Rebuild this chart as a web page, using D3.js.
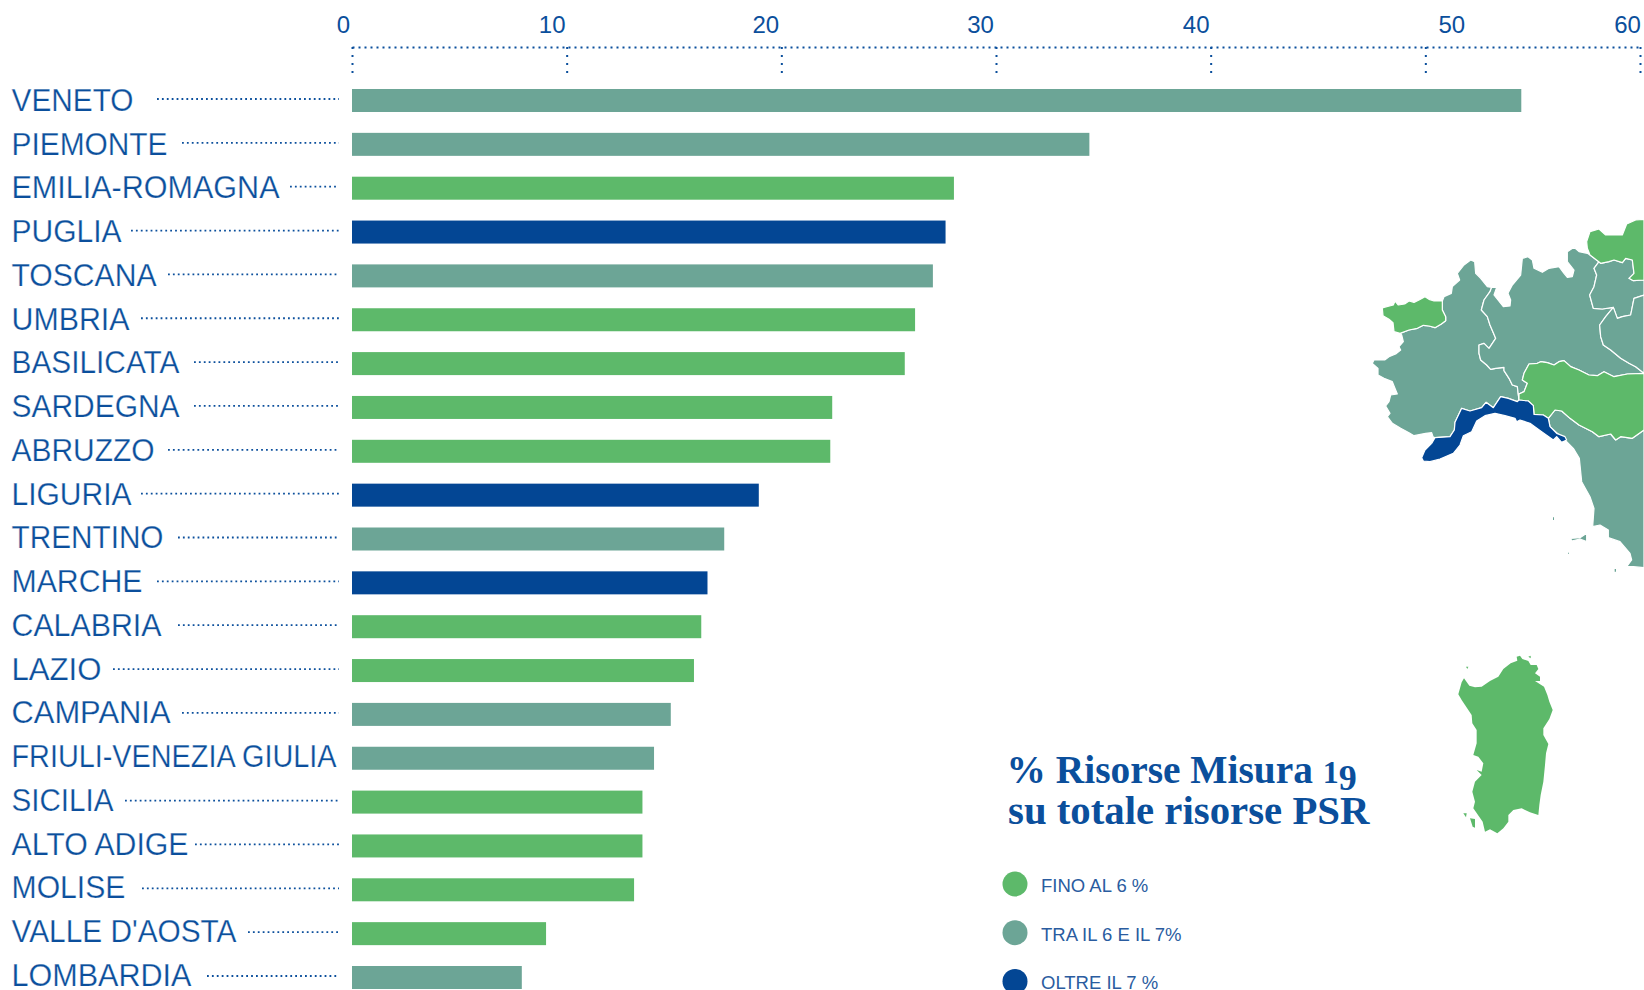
<!DOCTYPE html>
<html>
<head>
<meta charset="utf-8">
<script src="https://cdn.jsdelivr.net/npm/d3@7/dist/d3.min.js"></script>
<style>
html, body { margin:0; padding:0; background:#fff; overflow:hidden; }
svg { display:block; }
</style>
</head>
<body>
<div id="content"></div>
<script>
//////////////////// data
const regions = ["VENETO","PIEMONTE","EMILIA-ROMAGNA","PUGLIA","TOSCANA","UMBRIA","BASILICATA","SARDEGNA","ABRUZZO","LIGURIA","TRENTINO","MARCHE","CALABRIA","LAZIO","CAMPANIA","FRIULI-VENEZIA GIULIA","SICILIA","ALTO ADIGE","MOLISE","VALLE D'AOSTA","LOMBARDIA"];
const values = [54.47,34.35,28.04,27.65,27.06,26.23,25.75,22.37,22.28,18.95,17.34,16.56,16.27,15.93,14.85,14.07,13.53,13.53,13.14,9.04,7.91];
const classes = ["mid","mid","low","high","mid","low","low","low","low","high","mid","high","low","low","mid","mid","low","low","low","low","mid"];
const axisTicks = [0,10,20,30,40,50,60];
const legendKeys = ["low","mid","high"];
const legendLabels = ["FINO AL 6 %","TRA IL 6 E IL 7%","OLTRE IL 7 %"];
const titleLines = ["% Risorse Misura ","su totale risorse PSR"];
const titleNumber = ["1","9"];

// map borders, traced in 3x crop pixels of the map area. shared stretches are kept once
const ligTop = [[285,713],[330,710],[343,690],[345,667],[365,625],[390,633],[425,623],[438,607],[460,623],[482,590],[505,595],[532,605]];
const pieLomb = [[537,600],[532,560],[517,555],[507,535],[492,512],[492,502],[467,505],[452,508],[440,495],[422,480],[417,460],[417,435],[432,430],[447,445],[467,415],[450,375],[442,350],[424,330],[432,300],[450,275],[455,262]];
const aostaSouth = [[307,303],[307,330],[317,350],[317,362],[304,372],[285,383],[267,378],[250,376],[232,385],[207,390],[180,400]];
const pieNorth = [[442,260],[422,235],[407,220],[404,185],[392,180],[372,195],[352,220],[359,240],[337,260],[334,280],[312,290]];
const pieWest = [[185,405],[190,425],[177,440],[182,450],[167,462],[147,470],[134,480],[102,480],[97,490],[114,505],[114,525],[132,535],[157,545],[167,570],[172,582],[152,585],[147,605],[137,618],[150,640],[142,650],[157,670],[182,685],[207,698],[222,707],[257,700],[275,698],[279,710]];
const lombNorth = [[470,262],[462,285],[490,320],[510,318],[512,300],[504,280],[517,255],[542,225],[547,175],[564,170],[577,180],[582,205],[607,217],[627,205],[657,200],[672,220],[682,232],[697,230],[702,210],[682,185],[682,155],[702,142],[717,155],[742,160],[750,165]];
const lombEast = [[777,185],[762,205],[770,225],[762,260],[749,285],[760,325],[787,327],[820,322]];
const venLomb = [[797,350],[779,375],[782,410],[790,435],[812,450],[842,475],[867,490],[887,500],[912,520]];
const emiNorth = [[862,522],[822,530],[792,515],[772,527],[747,525],[717,510],[692,500],[672,482],[657,485],[642,495],[622,488],[602,485],[592,490],[567,492],[552,520],[547,540],[562,550],[552,575],[537,582]];
const ligEmi = [[537,600],[565,603],[580,617],[582,643],[610,645],[625,655]];
const emiSouth = [[645,630],[665,633],[690,655],[717,675],[757,695],[777,710],[812,702],[827,720],[842,710],[877,715],[912,690]];
const ligCoast = [[630,680],[650,700],[675,710],[680,720],[665,727],[650,710],[640,720],[605,695],[570,670],[540,660],[530,665],[525,655],[495,647],[465,640],[435,647],[410,663],[395,695],[370,707],[360,735],[340,760],[300,777],[270,785],[250,783],[245,773],[255,750],[275,730]];
const tosCoast = [[912,1103],[880,1100],[860,1100],[875,1080],[870,1060],[840,1025],[805,1013],[805,990],[780,975],[758,980],[762,925],[750,890],[725,845],[718,775],[700,745],[680,725]];
const aostaNorth = [[305,303],[282,303],[267,298],[255,290],[237,300],[222,307],[207,303],[194,312],[175,315],[165,303],[160,315],[132,322],[127,325],[129,347],[147,358],[159,368],[162,395]];
const adigeNorth = [[742,145],[740,125],[750,95],[777,87],[797,105],[847,105],[860,72],[887,60],[912,58],[912,240],[880,242],[867,235],[882,220],[877,180],[857,175],[847,188],[822,180],[807,185],[782,190],[750,165]];
const trenEast = [[782,190],[807,185],[822,180],[847,188],[857,175],[877,180],[882,220],[867,235],[880,242],[912,240],[912,285],[882,295],[872,345],[847,350],[832,355],[820,322]];
const elba = [[692,1015],[720,1013],[740,1000],[740,1025],[720,1017],[695,1023]];
const tinyIsles = [[[639,952],[642,952],[642,960],[639,960]],[[824,1107],[828,1107],[828,1115],[824,1115]],[[684,1058],[687,1058],[687,1061],[684,1061]]];

// sardinia, traced in its own 3x crop
const sardegna = [[65,112],[72,100],[88,122],[105,127],[125,125],[150,108],[175,95],[190,72],[212,55],[232,47],[230,35],[240,32],[247,42],[265,48],[272,60],[290,60],[295,72],[285,85],[300,95],[300,108],[285,108],[312,125],[322,150],[328,170],[338,195],[328,222],[310,250],[310,270],[325,297],[318,325],[315,360],[310,410],[302,450],[298,480],[295,510],[270,502],[245,490],[220,495],[205,510],[205,530],[190,550],[172,565],[150,553],[135,560],[128,530],[100,490],[105,470],[97,440],[105,410],[125,390],[110,375],[125,380],[130,355],[115,335],[100,330],[110,295],[110,255],[97,235],[95,210],[75,180],[65,165],[55,148]];
const sardegnaIslets = [[[70,505],[80,505],[78,517]],[[90,520],[105,522],[105,548],[98,545]],[[78,65],[85,65],[82,72]],[[265,35],[272,32],[272,40]]];

const rev = a => a.slice().reverse();
const piemonte = [[180,400],[185,405]].concat(pieWest.slice(1), ligTop, pieLomb, pieNorth, aostaSouth);
const valleAosta = rev(aostaSouth).concat(aostaNorth.slice(1));
const lombardia = [[455,262]].concat(lombNorth, lombEast, venLomb, emiNorth, pieLomb);
const trentino = [[777,185]].concat(trenEast, rev(lombEast).slice(1));
const altoAdige = adigeNorth;
const veneto = [[820,322],[832,355],[847,350],[872,345],[882,295],[912,285],[912,520]].concat(rev(venLomb).slice(1));
const emilia = [[912,520]].concat(emiNorth, ligEmi, emiSouth);
const liguria = ligTop.concat(ligEmi, ligCoast);
const toscana = [[625,655]].concat(emiSouth, tosCoast, [[630,680]]);

//////////////////// layout
const W = 1644, H = 990;
const xStart = 352, xEnd = 1640;
const barTop = 89, rowStep = 43.85, barH = 23;
const labelX = 11.5, leaderEnd = 339;
const labelBase = 111, labelStep = 43.74;
const labelWidth = [122,156,268,110,145,118,168,168,143,120,152,131,150,90,159,325,102,177,114,225,180];
const leaderStart = [157,182,290,131,168,141,194,194,168,141,178,157,178,113,182,0,125,195,142,248,207];
const tickDx = [-9,-15,-16,-16,-15,26,-13];
const titleSize = [39.4,40.8];
const ink = "#0b4f9c";
const serifFont = "'Liberation Serif', serif";
const sansFont = "'Liberation Sans', sans-serif";

const xScale = d3.scaleLinear().domain([0,60]).range([xStart,xEnd]);
const yScale = d3.scaleBand()
    .domain(regions)
    .range([barTop, barTop + rowStep*regions.length - (rowStep-barH)])
    .paddingInner(1 - barH/rowStep)
    .paddingOuter(0);
const cScale = d3.scaleOrdinal().domain(legendKeys).range(["#5db96a","#6ca596","#034694"]);

const mapX = d3.scaleLinear().domain([0,912]).range([1340,1644]);
const mapY = d3.scaleLinear().domain([0,1170]).range([200,590]);
const sardX = d3.scaleLinear().domain([0,390]).range([1440,1570]);
const sardY = d3.scaleLinear().domain([0,600]).range([645,845]);
const mapLine = d3.line().x(d=>mapX(d[0])).y(d=>mapY(d[1])).curve(d3.curveLinearClosed);
const sardLine = d3.line().x(d=>sardX(d[0])).y(d=>sardY(d[1])).curve(d3.curveLinearClosed);

////////////////////  composing SVG-content
const svg = d3.select("#content").append("svg")
    .attr("width", W)
    .attr("height", H);

svg.append("rect").attr("width",W).attr("height",H).attr("fill","#fff");

// map first, it sits behind everything
const mapShapes = [
    {pts:piemonte, c:"mid"},{pts:lombardia, c:"mid"},{pts:trentino, c:"mid"},{pts:veneto, c:"mid"},
    {pts:toscana, c:"mid"},{pts:elba, c:"mid"},{pts:valleAosta, c:"low"},{pts:altoAdige, c:"low"},
    {pts:emilia, c:"low"},{pts:liguria, c:"high"}
];
svg.append("g").selectAll("path").data(mapShapes).enter().append("path")
    .attr("d", d=>mapLine(d.pts))
    .attr("fill", d=>cScale(d.c))
    .attr("stroke", "#fff")
    .attr("stroke-width", 1.2)
    .attr("stroke-linejoin", "round");
svg.append("g").selectAll("path").data(tinyIsles).enter().append("path")
    .attr("d", mapLine)
    .attr("fill", cScale("mid"));

svg.append("g").selectAll("path").data([sardegna].concat(sardegnaIslets)).enter().append("path")
    .attr("d", sardLine)
    .attr("fill", cScale("low"));

// axis
const axis = svg.append("g")
    .attr("transform","translate(0,47)")
    .call(d3.axisBottom(xScale).tickValues(axisTicks).tickSize(26).tickSizeOuter(0));
axis.select(".domain")
    .attr("stroke", ink).attr("stroke-width",2)
    .attr("stroke-dasharray","2 4");
axis.selectAll(".tick line")
    .attr("stroke", ink).attr("stroke-width",2)
    .attr("stroke-dasharray","2 6");
axis.selectAll(".tick text")
    .attr("y", -14)
    .attr("dy", 0)
    .attr("dx", (d,i)=>tickDx[i])
    .attr("fill", ink)
    .attr("font-family", sansFont)
    .attr("font-size", 24);

// bars
svg.append("g").selectAll("rect").data(regions).enter().append("rect")
    .attr("x", xScale(0))
    .attr("y", d=>yScale(d))
    .attr("width", (d,i)=>xScale(values[i])-xScale(0))
    .attr("height", yScale.bandwidth())
    .attr("fill", (d,i)=>cScale(classes[i]));

// labels and dotted leaders. the thin white stroke takes the regular weight down towards the light face
svg.append("g").selectAll("text").data(regions).enter().append("text")
    .attr("x", labelX)
    .attr("y", (d,i)=>labelBase+i*labelStep)
    .attr("fill", ink)
    .attr("stroke", "#fff")
    .attr("stroke-width", 0.25)
    .attr("font-family", sansFont)
    .attr("font-size", 31)
    .attr("textLength", (d,i)=>labelWidth[i])
    .attr("lengthAdjust", "spacingAndGlyphs")
    .text(d=>d);

svg.append("g").selectAll("line").data(regions.filter((d,i)=>leaderStart[i]>0)).enter().append("line")
    .attr("x1", d=>leaderStart[regions.indexOf(d)])
    .attr("x2", leaderEnd)
    .attr("y1", d=>yScale(d)+10)
    .attr("y2", d=>yScale(d)+10)
    .attr("stroke", ink)
    .attr("stroke-width", 1.8)
    .attr("stroke-dasharray", "1.8 3.1");

// title, the 19 imitates the old style figures of the original
const title = svg.append("g").selectAll("text").data(titleLines).enter().append("text")
    .attr("x", (d,i)=>i==0 ? 1006.5 : 1008)
    .attr("y", (d,i)=>783+i*41)
    .attr("fill", ink)
    .attr("font-family", serifFont)
    .attr("font-weight", 700)
    .attr("font-size", (d,i)=>titleSize[i])
    .text(d=>d);
title.filter((d,i)=>i==0).append("tspan")
    .attr("font-size",32)
    .text(titleNumber[0]);
title.filter((d,i)=>i==0).append("tspan")
    .attr("font-size",36)
    .attr("dy",7)
    .text(titleNumber[1]);

// legend
const legend = svg.append("g").selectAll("g").data(legendKeys).enter().append("g")
    .attr("transform",(d,i)=>"translate(1015,"+(884+i*48.7)+")");
legend.append("circle").attr("r",12.5).attr("fill",d=>cScale(d));
legend.append("text")
    .attr("x",26)
    .attr("y",8)
    .attr("fill","#2a5c9f")
    .attr("font-family",sansFont)
    .attr("font-size",18.5)
    .text((d,i)=>legendLabels[i]);
</script>
</body>
</html>
